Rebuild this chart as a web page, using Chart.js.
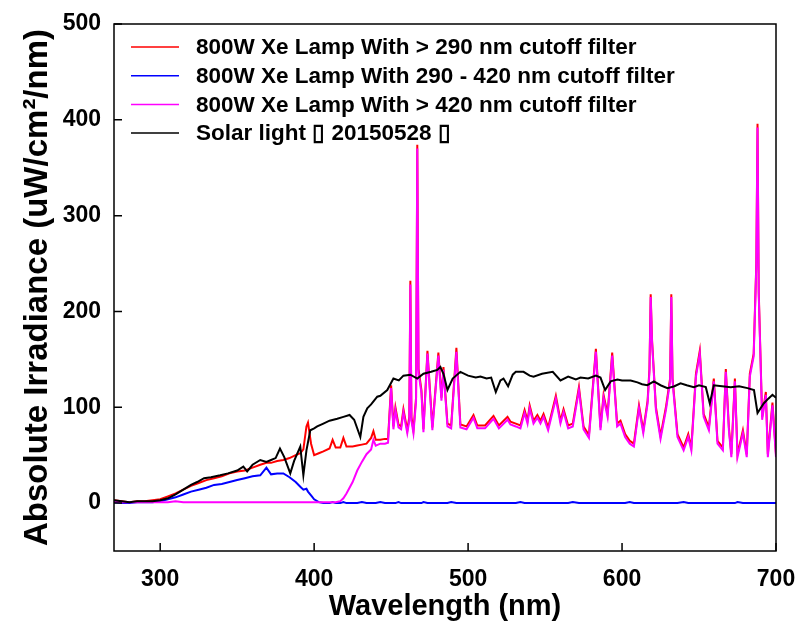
<!DOCTYPE html>
<html>
<head>
<meta charset="utf-8">
<title>Irradiance spectra</title>
<script src="https://cdn.jsdelivr.net/npm/chart.js@4.4.0/dist/chart.umd.min.js"></script>
<style>
  html, body { margin: 0; padding: 0; background: #fff; }
</style>
</head>
<body>
<canvas id="spectra" width="803" height="633"></canvas>
<script>
// wavelengths (nm) shared by the three Xe lamp curves
var lampWl = [270, 275, 280, 285, 290, 295, 300, 305, 310, 315,
  320, 325, 330, 335, 340, 345, 350, 355, 360, 365,
  369, 372, 376, 380, 384, 388, 391, 393, 395, 396,
  398, 400, 403, 406, 410, 412, 414, 417, 419, 421,
  425, 428, 431, 434, 437, 438.5, 440, 443, 446, 448,
  450, 451.5, 452.8, 454.8, 456.5, 458, 460.5, 461.8, 462.5, 463.2,
  464.5, 466.2, 467, 467.8, 469.7, 471, 473.6, 476.8, 480.7, 482.7,
  484, 486.6, 489, 492.4, 495, 499, 503.5, 506, 511, 516.5,
  520, 525.6, 527.5, 531, 534, 536.7, 538.6, 540, 542.5, 545,
  547, 549, 552, 557, 560, 562, 565, 568, 572, 575,
  578.5, 583, 586, 588, 590.6, 593.6, 596.8, 599, 602, 605,
  607.7, 611, 613.8, 616.6, 617.8, 618.6, 619.5, 622, 625, 628.5,
  631.2, 632, 632.8, 636, 640, 643, 645, 648, 650.5, 653,
  656.4, 659.6, 662, 665.5, 667.4, 669.4, 671, 673.3, 675, 678.5,
  681, 683, 685.5, 687.2, 688, 688.8, 691, 693.4, 694.7, 697.7,
  700];

// > 290 nm cutoff filter
var lamp290 = [3, 2, 1, 2, 2, 3, 4, 7, 10, 14,
  18, 21, 24, 26, 28, 31, 33, 34, 37, 40,
  42, 42, 44, 45, 47, 50, 52, 56, 80, 84,
  62, 50, 52, 54, 57, 66, 58, 58, 68, 59,
  59, 60, 61, 62, 68, 75, 66, 66, 67, 67,
  123, 80, 100, 82, 80, 98, 76, 90, 232, 90,
  76, 110, 374, 140, 118, 77, 159, 79, 157, 110,
  142, 83, 81, 162, 82, 80, 92, 81, 81, 91,
  81, 90, 85, 83, 81, 97, 86, 102, 86, 92,
  86, 93, 79, 112, 86, 98, 81, 83, 121, 80,
  71, 161, 79, 113, 93, 157, 83, 86, 72, 65,
  62, 102, 76, 107, 140, 218, 170, 100, 70, 100,
  130, 218, 130, 72, 58, 72, 58, 135, 159, 93,
  79, 130, 65, 58, 140, 79, 51, 130, 51, 76,
  51, 135, 156, 250, 396, 220, 90, 116, 51, 105,
  51];

// 290 - 420 nm cutoff filter
var lamp290to420 = [1, 0, 0, 1, 1, 1, 2, 4, 6, 9,
  12, 14, 16, 19, 20, 22, 24, 26, 28, 29,
  37, 30, 31, 31, 27, 22, 17, 14, 15, 12,
  8, 4, 1, 0, 0, 1, 0, 0, 1, 0,
  0, 0, 1, 0, 0, 0, 0, 1, 0, 0,
  0, 0, 0, 1, 0, 0, 0, 0, 0, 0,
  0, 0, 0, 0, 0, 1, 0, 0, 0, 0,
  0, 0, 1, 0, 0, 0, 0, 0, 0, 0,
  0, 0, 0, 0, 1, 0, 0, 0, 0, 0,
  0, 0, 0, 0, 0, 0, 0, 1, 0, 0,
  0, 0, 0, 0, 0, 0, 0, 0, 0, 1,
  0, 0, 0, 0, 0, 0, 0, 0, 0, 0,
  0, 0, 0, 0, 1, 0, 0, 0, 0, 0,
  0, 0, 0, 0, 0, 0, 0, 0, 1, 0,
  0, 0, 0, 0, 0, 0, 0, 0, 0, 0,
  0];

// > 420 nm cutoff filter
var lamp420 = [2, 1, 1, 1, 1, 1, 1, 1, 2, 1,
  1, 1, 1, 1, 1, 1, 1, 1, 1, 1,
  1, 1, 1, 1, 1, 1, 1, 1, 1, 1,
  1, 1, 1, 1, 1, 1, 1, 2, 5, 10,
  22, 34, 43, 51, 56, 66, 60, 62, 62, 63,
  120, 77, 97, 79, 77, 95, 73, 86, 228, 86,
  73, 106, 370, 136, 115, 74, 156, 76, 154, 107,
  139, 80, 78, 158, 79, 77, 89, 78, 78, 88,
  78, 87, 82, 80, 78, 94, 83, 99, 83, 89,
  83, 90, 76, 109, 83, 95, 78, 80, 118, 77,
  68, 158, 76, 110, 90, 154, 80, 83, 69, 62,
  59, 99, 73, 104, 137, 215, 167, 97, 67, 97,
  127, 215, 127, 69, 55, 69, 55, 132, 156, 90,
  76, 127, 62, 55, 137, 76, 48, 127, 48, 73,
  48, 132, 153, 247, 392, 217, 87, 113, 48, 102,
  48];

// solar spectrum
var solarWl = [270, 275, 280, 285, 290, 295, 300, 305, 310, 315,
  320, 324, 328.5, 333, 339, 344, 350, 354, 356.5, 360,
  365, 369, 372, 375, 377.8, 380.6, 384.5, 387, 391, 393,
  395, 397.5, 400, 402, 406, 410, 415, 419, 423, 426,
  430, 432, 434.5, 437, 441, 443, 447.5, 451.5, 455, 458,
  462.5, 467, 471, 476, 480, 482, 484, 486.6, 490, 495,
  500, 505, 508, 512, 515, 518, 521, 523, 526, 529,
  531, 536, 540, 542.5, 548, 555, 560, 565, 570, 573,
  578, 583, 586, 589, 592.6, 597, 600, 605.6, 610, 613,
  616.4, 620.7, 625, 629.5, 634, 638, 642, 646.6, 650, 654.4,
  657, 659.6, 665, 670.6, 676, 681.5, 685.7, 688, 692, 695,
  697.7, 700];
var solar = [3, 2, 1, 2, 2, 2, 3, 5, 9, 14,
  19, 22, 26, 27, 29, 31, 34, 38, 33, 40,
  45, 43, 45, 47, 57, 48, 31, 44, 59, 29,
  55, 76, 78, 80, 83, 86, 88, 90, 92, 87,
  69, 90, 99, 103, 111, 112, 118, 130, 128, 133,
  134, 130, 135, 137, 139, 142, 135, 118, 130, 137,
  133, 131, 132, 130, 131, 116, 128, 130, 122, 134,
  137, 137, 133, 132, 135, 137, 128, 132, 129, 131,
  130, 133, 131, 118, 127, 129, 128, 128, 126, 124,
  123, 127, 123, 120, 122, 125, 123, 121, 123, 121,
  104, 123, 122, 121, 122, 120, 118, 94, 104, 109,
  113, 110];

var xTicks = [300, 400, 500, 600, 700];
var yTicks = [0, 100, 200, 300, 400, 500];

const FONT = '"Liberation Sans", Arial, sans-serif';

function pts(xs, ys) {
  return xs.map((w, i) => ({ x: w, y: ys[i] }));
}

// frame, inward ticks and the legend inside the plot
const framePlugin = {
  id: 'frame',
  afterDraw(chart) {
    const { ctx, chartArea: a, scales } = chart;
    ctx.save();
    ctx.strokeStyle = '#000';
    ctx.lineWidth = 1.5;
    ctx.strokeRect(a.left, a.top, a.right - a.left, a.bottom - a.top);
    ctx.beginPath();
    scales.x.ticks.forEach(t => {
      const px = scales.x.getPixelForValue(t.value);
      ctx.moveTo(px, a.bottom);
      ctx.lineTo(px, a.bottom - 8);
    });
    scales.y.ticks.forEach(t => {
      const py = scales.y.getPixelForValue(t.value);
      ctx.moveTo(a.left, py);
      ctx.lineTo(a.left + 8, py);
    });
    ctx.stroke();

    ctx.font = 'bold 22.5px ' + FONT;
    ctx.textBaseline = 'middle';
    ctx.fillStyle = '#000';
    chart.data.datasets.forEach((ds, i) => {
      const yy = 47 + i * 28.7;
      ctx.strokeStyle = ds.borderColor;
      ctx.lineWidth = 1.5;
      ctx.beginPath();
      ctx.moveTo(131, yy);
      ctx.lineTo(179, yy);
      ctx.stroke();
      ctx.fillText(ds.label, 196, yy + 1);
    });
    ctx.restore();
  }
};

const cfg = {
  type: 'line',
  data: {
    datasets: [
      { label: '800W Xe Lamp With > 290 nm cutoff filter', data: pts(lampWl, lamp290),
        borderColor: '#ff0000', order: 3 },
      { label: '800W Xe Lamp With 290 - 420 nm cutoff filter', data: pts(lampWl, lamp290to420),
        borderColor: '#0000ff', order: 2 },
      { label: '800W Xe Lamp With > 420 nm cutoff filter', data: pts(lampWl, lamp420),
        borderColor: '#ff00ff', order: 1 },
      { label: 'Solar light \u25AF 20150528 \u25AF', data: pts(solarWl, solar),
        borderColor: '#000000', order: 0 }
    ]
  },
  options: {
    responsive: false,
    animation: false,
    layout: { padding: { left: 0, right: 27, top: 24, bottom: 0 } },
    elements: {
      point: { radius: 0 },
      line: { borderWidth: 2, tension: 0, fill: false }
    },
    plugins: {
      legend: { display: false },
      tooltip: { enabled: false }
    },
    scales: {
      x: {
        type: 'linear',
        min: 270,
        max: 700,
        grid: { display: false },
        border: { display: false },
        afterBuildTicks: s => { s.ticks = xTicks.map(v => ({ value: v })); },
        afterFit: s => { s.height = 82; s.paddingLeft = 0; s.paddingRight = 0; },
        ticks: {
          color: '#000', padding: 7, maxRotation: 0, autoSkip: false,
          font: { family: FONT, size: 23, weight: 'bold' }
        },
        title: {
          display: true, text: 'Wavelength (nm)', color: '#000',
          font: { family: FONT, size: 29, weight: 'bold' },
          padding: { top: 0, bottom: 9 }
        }
      },
      y: {
        type: 'linear',
        min: -50,
        max: 500,
        grid: { display: false },
        border: { display: false },
        afterBuildTicks: s => { s.ticks = yTicks.map(v => ({ value: v })); },
        afterFit: s => { s.width = 114; s.paddingTop = 0; s.paddingBottom = 0; },
        ticks: {
          color: '#000', padding: 5,
          font: { family: FONT, size: 23, weight: 'bold' }
        },
        title: {
          display: true, text: 'Absolute Irradiance (uW/cm\u00B2/nm)', color: '#000',
          font: { family: FONT, size: 33, weight: 'bold' },
          padding: { top: 18, bottom: 0 }
        }
      }
    }
  },
  plugins: [framePlugin]
};

const ctx = document.getElementById('spectra');
window.spectraChart = new Chart(ctx, cfg);
</script>
</body>
</html>
